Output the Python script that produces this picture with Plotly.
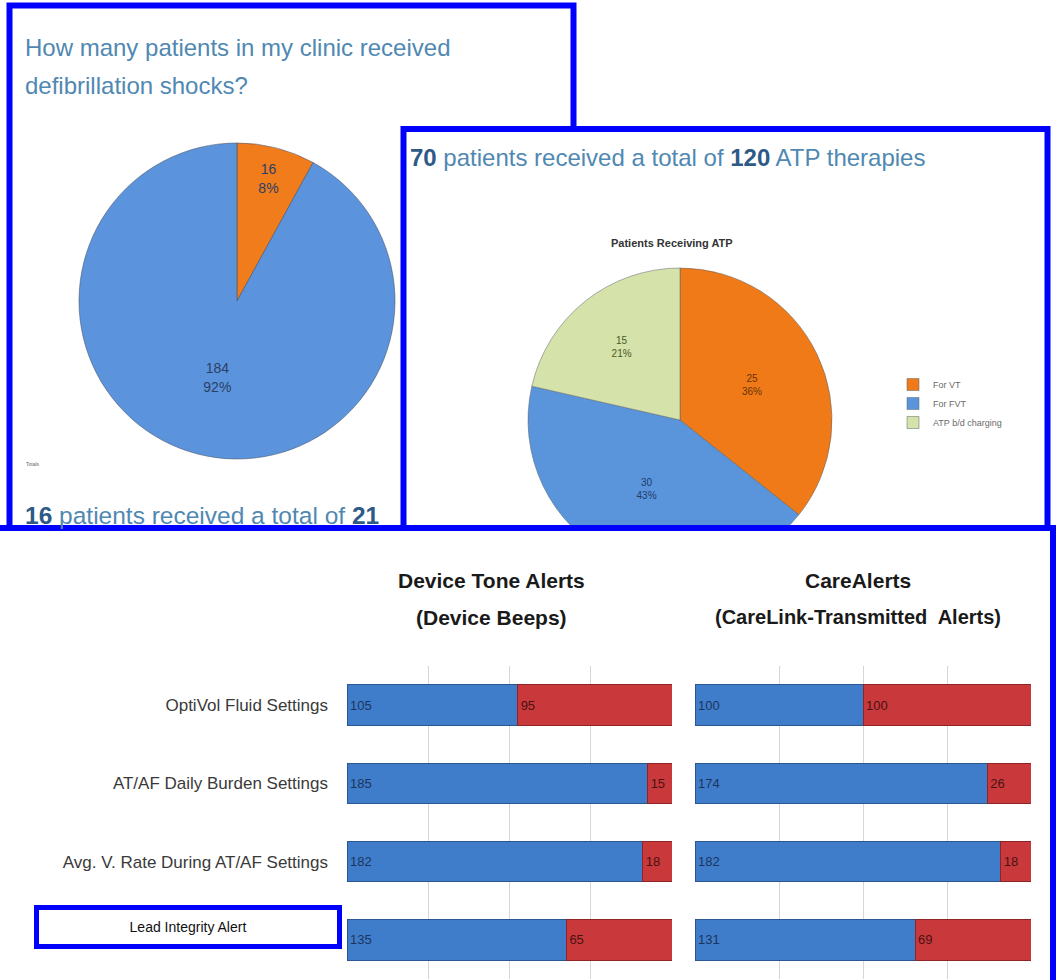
import plotly.graph_objects as go

W, H = 1056, 980


def px(x):
    return x / W


def py(y):
    return 1 - y / H


# Defibrillation shocks per patient
shock_labels = ["Received shocks", "No shocks"]
shock_values = [16, 184]
shock_colors = ["#F07C1C", "#5B94DC"]

# ATP therapies by reason
atp_labels = ["For VT", "For FVT", "ATP b/d charging"]
atp_values = [25, 30, 15]
atp_colors = ["#EF7A17", "#5A94DB", "#D5E2AA"]
atp_text_colors = ["#6B3208", "#223C6A", "#4A5A2A"]

# Alert settings: on / off counts
categories = [
    "OptiVol Fluid Settings",
    "AT/AF Daily Burden Settings",
    "Avg. V. Rate During AT/AF Settings",
    "Lead Integrity Alert",
]
tone_on = [105, 185, 182, 135]
tone_off = [95, 15, 18, 65]
care_on = [100, 174, 182, 131]
care_off = [100, 26, 18, 69]

BLUE_BAR = "#3F7DCA"
RED_BAR = "#C9393B"
BOX_BLUE = "#0000FF"
TITLE_BLUE = "#5088B2"
NUM_BLUE = "#2D5A86"
NARROW = "Liberation Sans Narrow, Arial Narrow, Liberation Sans, sans-serif"

fig = go.Figure()

# --- shocks pie ---
c1x, c1y, r1 = 237, 301, 158
fig.add_trace(go.Pie(
    labels=shock_labels, values=shock_values,
    marker=dict(colors=shock_colors, line=dict(color="rgba(70,80,100,0.55)", width=1)),
    sort=False, direction="clockwise", rotation=0,
    texttemplate="%{value}<br>%{percent:.0%}",
    textposition="inside", insidetextorientation="horizontal",
    textfont=dict(family=NARROW, size=14, color="#2B3F66"),
    domain=dict(x=[px(c1x - r1), px(c1x + r1)], y=[py(c1y + r1), py(c1y - r1)]),
    showlegend=False, hoverinfo="label+value+percent",
))

# --- ATP pie ---
c2x, c2y, r2 = 680, 420, 152
fig.add_trace(go.Pie(
    labels=atp_labels, values=atp_values,
    marker=dict(colors=atp_colors, line=dict(color="rgba(90,100,110,0.5)", width=1)),
    sort=False, direction="clockwise", rotation=0,
    texttemplate="%{value}<br>%{percent:.0%}",
    textposition="inside", insidetextorientation="horizontal",
    textfont=dict(family=NARROW, size=10, color=atp_text_colors),
    domain=dict(x=[px(c2x - r2), px(c2x + r2)], y=[py(c2y + r2), py(c2y - r2)]),
    showlegend=True, hoverinfo="label+value+percent",
))

# --- alert settings bars ---
bar_common = dict(
    orientation="h", width=0.52, textposition="inside", insidetextanchor="start",
    textangle=0, constraintext="none", texttemplate="%{x}",
    showlegend=False,
)
fig.add_trace(go.Bar(y=categories, x=tone_on, marker=dict(color=BLUE_BAR, line=dict(color="#2A5792", width=1)),
                     textfont=dict(family=NARROW, size=13, color="#1C355F"), xaxis="x", yaxis="y", **bar_common))
fig.add_trace(go.Bar(y=categories, x=tone_off, marker=dict(color=RED_BAR, line=dict(color="#8E2426", width=1)),
                     textfont=dict(family=NARROW, size=13, color="#4A1212"), xaxis="x", yaxis="y", **bar_common))
fig.add_trace(go.Bar(y=categories, x=care_on, marker=dict(color=BLUE_BAR, line=dict(color="#2A5792", width=1)),
                     textfont=dict(family=NARROW, size=13, color="#1C355F"), xaxis="x2", yaxis="y2", **bar_common))
fig.add_trace(go.Bar(y=categories, x=care_off, marker=dict(color=RED_BAR, line=dict(color="#8E2426", width=1)),
                     textfont=dict(family=NARROW, size=13, color="#4A1212"), xaxis="x2", yaxis="y2", **bar_common))

xaxis_common = dict(range=[0, 200], dtick=50, showgrid=True, gridcolor="#D6D6D6", gridwidth=1,
                    showticklabels=False, zeroline=False, showline=False, ticks="", fixedrange=True)
yaxis_common = dict(type="category", categoryorder="array", categoryarray=categories,
                    autorange="reversed", showgrid=False, zeroline=False, showline=False, ticks="",
                    domain=[py(979), py(666)], fixedrange=True)

fig.update_layout(
    width=W, height=H,
    margin=dict(l=0, r=0, t=0, b=0),
    paper_bgcolor="white", plot_bgcolor="white",
    barmode="stack", bargap=0.48,
    xaxis=dict(domain=[px(347), px(672)], anchor="y", **xaxis_common),
    yaxis=dict(anchor="x", tickvals=categories, ticktext=categories[:3] + [""],
               tickfont=dict(family=NARROW, size=17, color="#3A3A3A"),
               ticklabelstandoff=18, **yaxis_common),
    xaxis2=dict(domain=[px(695), px(1031)], anchor="y2", **xaxis_common),
    yaxis2=dict(anchor="x2", showticklabels=False, **yaxis_common),
    legend=dict(x=px(893), y=py(370), xanchor="left", yanchor="top",
                font=dict(family="Liberation Sans, Arial, sans-serif", size=9, color="#6A6A6A"),
                bgcolor="rgba(0,0,0,0)", itemwidth=30, traceorder="normal"),
    font=dict(family="Liberation Sans, Arial, sans-serif"),
)

# --- panel frames ---
shapes = [
    dict(type="rect", xref="paper", yref="paper", x0=px(9.5), x1=px(573.5), y0=py(720), y1=py(5.5),
         line=dict(color=BOX_BLUE, width=6), fillcolor="white", layer="below"),
    dict(type="rect", xref="paper", yref="paper", x0=px(403.5), x1=px(1047.5), y0=py(720), y1=py(129),
         line=dict(color=BOX_BLUE, width=6), fillcolor="white", layer="below"),
    dict(type="rect", xref="paper", yref="paper", x0=px(-10), x1=px(1053), y0=py(1010), y1=py(528),
         line=dict(color=BOX_BLUE, width=6), fillcolor="white", layer="below"),
    # lower panel sits on top of the ATP pie
    dict(type="rect", xref="paper", yref="paper", x0=px(420), x1=px(1000), y0=py(590), y1=py(531),
         line=dict(width=0), fillcolor="white", layer="above"),
    dict(type="line", xref="paper", yref="paper", x0=px(-10), x1=px(1056), y0=py(528), y1=py(528),
         line=dict(color=BOX_BLUE, width=6), layer="above"),
]
fig.update_layout(shapes=shapes)


def note(text, x, y, xanchor="left", **kw):
    d = dict(text=text, x=px(x), y=py(y), xref="paper", yref="paper",
             xanchor=xanchor, yanchor="middle", showarrow=False)
    d.update(kw)
    return d


ann = [
    note("How many patients in my clinic received", 23, 47, font=dict(size=24, color=TITLE_BLUE)),
    note("defibrillation shocks?", 23, 85, font=dict(size=24, color=TITLE_BLUE)),
    note("Totals", 24, 464, font=dict(size=5, color="#666666")),
    note(f"<span style='color:{NUM_BLUE}'><b>16</b></span> patients received a total of "
         f"<span style='color:{NUM_BLUE}'><b>21</b></span>",
         23, 515, font=dict(size=24.5, color=TITLE_BLUE)),
    note(f"<span style='color:{NUM_BLUE}'><b>70</b></span> patients received a total of "
         f"<span style='color:{NUM_BLUE}'><b>120</b></span> ATP therapies",
         408, 157, font=dict(size=24, color=TITLE_BLUE)),
    note("<b>Patients Receiving ATP</b>", 672, 243, xanchor="center",
         font=dict(size=11, color="#333333")),
    note("<b>Device Tone Alerts</b>", 491, 580, xanchor="center",
         font=dict(family=NARROW, size=21, color="#1A1A1A")),
    note("<b>(Device Beeps)</b>", 491, 617, xanchor="center",
         font=dict(family=NARROW, size=21, color="#1A1A1A")),
    note("<b>CareAlerts</b>", 858, 580, xanchor="center",
         font=dict(family=NARROW, size=21, color="#1A1A1A")),
    note("<b>(CareLink-Transmitted  Alerts)</b>", 858, 617, xanchor="center",
         font=dict(family=NARROW, size=20, color="#1A1A1A")),
    note(categories[3], 187.5, 927, xanchor="center", width=298, height=34, borderwidth=5,
         borderpad=0, bordercolor=BOX_BLUE, bgcolor="white",
         font=dict(family=NARROW, size=14, color="#111111")),
]
fig.update_layout(annotations=ann)

fig.write_html("out.html")
